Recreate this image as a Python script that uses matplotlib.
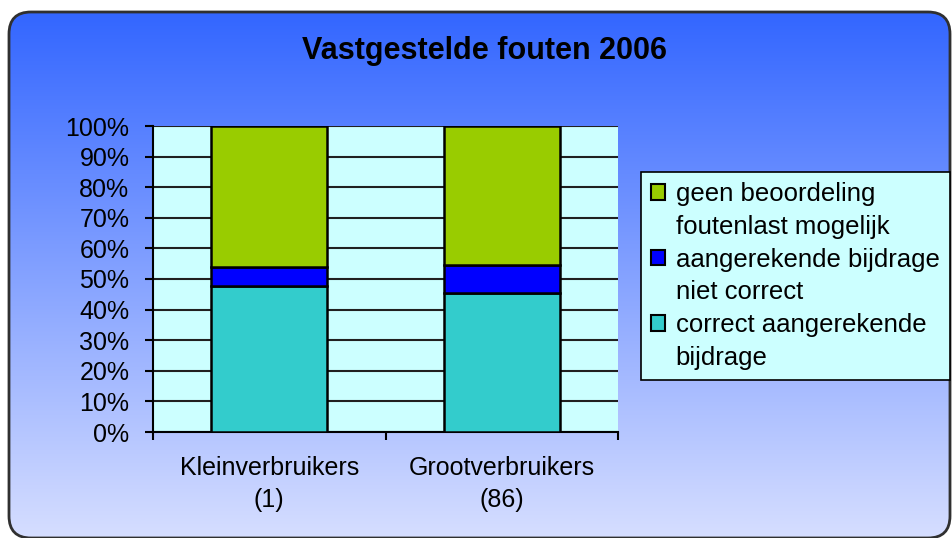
import numpy as np
import matplotlib
matplotlib.use('Agg')
import matplotlib.pyplot as plt
from matplotlib.patches import FancyBboxPatch, Patch
from matplotlib.colors import LinearSegmentedColormap

plt.rcParams['font.family'] = ['Liberation Sans', 'DejaVu Sans']

# data (percentages)
categories = ['Kleinverbruikers\n(1)', 'Grootverbruikers\n(86)']
correct = [47.7, 45.3]
niet_correct = [6.3, 9.4]
geen_beoordeling = [46.0, 45.3]
series_names = ['geen beoordeling\nfoutenlast mogelijk',
                'aangerekende bijdrage\nniet correct',
                'correct aangerekende\nbijdrage']
y_ticks = list(range(0, 101, 10))

W, H = 952, 538
fig = plt.figure(figsize=(W / 100, H / 100), dpi=100)

# background: rounded box with vertical gradient
bg = fig.add_axes([0, 0, 1, 1])
bg.set_xlim(0, W)
bg.set_ylim(H, 0)
bg.axis('off')
cmap = LinearSegmentedColormap.from_list('bg', ['#3366FF', '#D6DEFF'])
grad = np.linspace(0, 1, 256).reshape(-1, 1)
im = bg.imshow(grad, extent=[9, 950, 538, 12], cmap=cmap, aspect='auto')
box = FancyBboxPatch((9, 12), 941, 526, boxstyle='round,pad=0,rounding_size=22',
                     facecolor='none', edgecolor='#303030', lw=2)
bg.add_patch(box)
im.set_clip_path(box)

fig.text(485 / W, 1 - 51 / H, 'Vastgestelde fouten 2006', ha='center', va='center',
         fontsize=22, fontweight='bold')

ax = fig.add_axes([153 / W, 106 / H, 465 / W, 306 / H])
ax.set_facecolor('#CCFFFF')
x = np.arange(len(categories)) + 0.5
c1 = '#33CCCC'
c2 = '#0000FF'
c3 = '#99CC00'
bottom2 = np.array(correct)
bottom3 = bottom2 + np.array(niet_correct)
ax.bar(x, correct, width=0.5, color=c1, edgecolor='black', lw=1.8, zorder=3)
ax.bar(x, niet_correct, width=0.5, bottom=bottom2, color=c2, edgecolor='black', lw=1.8, zorder=3)
ax.bar(x, geen_beoordeling, width=0.5, bottom=bottom3, color=c3, edgecolor='black', lw=1.8, zorder=3)

ax.set_xlim(0, len(categories))
ax.set_ylim(0, 100)
ax.set_yticks(y_ticks)
ax.set_yticklabels([f'{v}%' for v in y_ticks])
ax.yaxis.grid(True, color='#202020', lw=1.5)
ax.set_axisbelow(True)
ax.set_xticks(np.arange(len(categories) + 1))
ax.set_xticklabels([])
ax.set_xticks(x, minor=True)
ax.set_xticklabels(categories, minor=True)
ax.tick_params(axis='x', which='minor', length=0, pad=17, labelsize=18)
ax.tick_params(axis='x', which='major', length=6, width=1.5, direction='out')
ax.tick_params(axis='y', length=6, width=1.5, direction='out', pad=11, labelsize=18)
for lbl in ax.get_xticklabels(minor=True):
    lbl.set_linespacing(1.45)
for s in ['top', 'right']:
    ax.spines[s].set_visible(False)
for s in ['left', 'bottom']:
    ax.spines[s].set_linewidth(1.5)

# legend: first line of each entry carries the colour box
handles, labels = [], []
for name, col in zip(series_names, [c3, c2, c1]):
    lines = name.split('\n')
    handles.append(Patch(facecolor=col, edgecolor='black', lw=1.5))
    labels.append(lines[0])
    for extra in lines[1:]:
        handles.append(Patch(facecolor='none', edgecolor='none'))
        labels.append(extra)
leg = fig.legend(handles, labels, loc='upper left', bbox_to_anchor=(641 / W, 1 - 172 / H),
                 fontsize=18.5, frameon=True, fancybox=False, facecolor='#CCFFFF',
                 edgecolor='black', framealpha=1, handlelength=0.55, handleheight=0.55,
                 handletextpad=0.4, labelspacing=0.34, borderpad=0.4, borderaxespad=0)
leg.get_frame().set_linewidth(1.2)

fig.savefig('out.png', dpi=100)
